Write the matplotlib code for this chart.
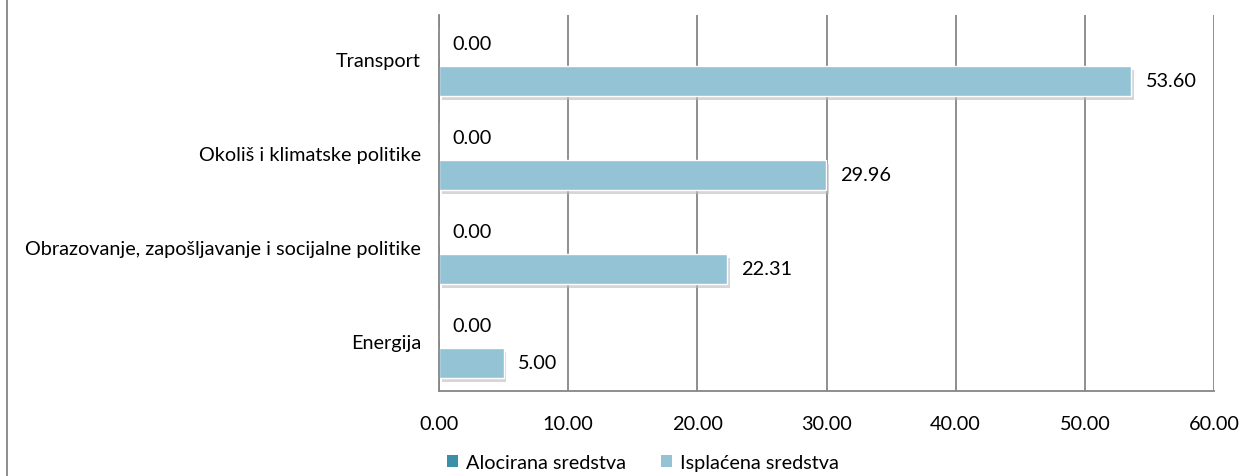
import matplotlib.pyplot as plt
import matplotlib.patheffects as pe
from matplotlib.lines import Line2D
from matplotlib.patches import Patch
import numpy as np

categories = ["Energija", "Obrazovanje, zapošljavanje i socijalne politike",
              "Okoliš i klimatske politike", "Transport"]
alocirana = [0.00, 0.00, 0.00, 0.00]
isplacena = [5.00, 22.31, 29.96, 53.60]
series_names = ["Alocirana sredstva", "Isplaćena sredstva"]
xticks = [0, 10, 20, 30, 40, 50, 60]

plt.rcParams['font.family'] = ['Lato', 'DejaVu Sans']
fs = 14.3

fig = plt.figure(figsize=(12.43, 4.77), dpi=100)
ax = fig.add_axes([439 / 1243, 1 - 392 / 477, 775 / 1243, 376 / 477])

y = np.arange(len(categories))
h = 0.32
off = 0.2
shadow = [pe.SimplePatchShadow(offset=(2, -3), shadow_rgbFace="#bbbbbb", alpha=0.6), pe.Normal()]
c1, c2 = "#3B8FA8", "#93C3D5"

ax.barh(y + off, alocirana, height=h, color=c1, edgecolor="white",
        linewidth=1, path_effects=shadow)
ax.barh(y - off, isplacena, height=h, color=c2, edgecolor="white",
        linewidth=1, path_effects=shadow)

for yy, v in zip(y, alocirana):
    ax.text(v + 1.05, yy + off, f"{v:.2f}", va="center", ha="left", fontsize=fs)
for yy, v in zip(y, isplacena):
    ax.text(v + 1.1, yy - off, f"{v:.2f}", va="center", ha="left", fontsize=fs)

ax.set_xlim(0, 60)
ax.set_ylim(-0.5, 3.5)
ax.set_xticks(xticks)
ax.set_xticklabels([f"{t:.2f}" for t in xticks], fontsize=fs)
ax.set_yticks(y + 0.03)
ax.set_yticklabels(categories, fontsize=fs)
ax.tick_params(length=0)
ax.tick_params(axis="x", pad=17)
ax.tick_params(axis="y", pad=13)
ax.grid(axis="x", color="#868686", linewidth=1.3)
ax.set_axisbelow(True)
for s in ["top", "right"]:
    ax.spines[s].set_visible(False)
for s in ["left", "bottom"]:
    ax.spines[s].set_color("#868686")
    ax.spines[s].set_linewidth(1.3)

fig.add_artist(Line2D([7 / 1243, 7 / 1243], [0, 1], color="#868686", linewidth=1.3))

handles = [Patch(facecolor=c1, edgecolor="none"), Patch(facecolor=c2, edgecolor="none")]
fig.legend(handles=handles, labels=series_names, loc="center",
           bbox_to_anchor=(643 / 1243, 1 - 464 / 477),
           ncol=2, frameon=False, fontsize=fs, handlelength=0.55, handleheight=0.55,
           handletextpad=0.4, columnspacing=1.8, borderpad=0.1)

fig.savefig("out.png", dpi=100)
